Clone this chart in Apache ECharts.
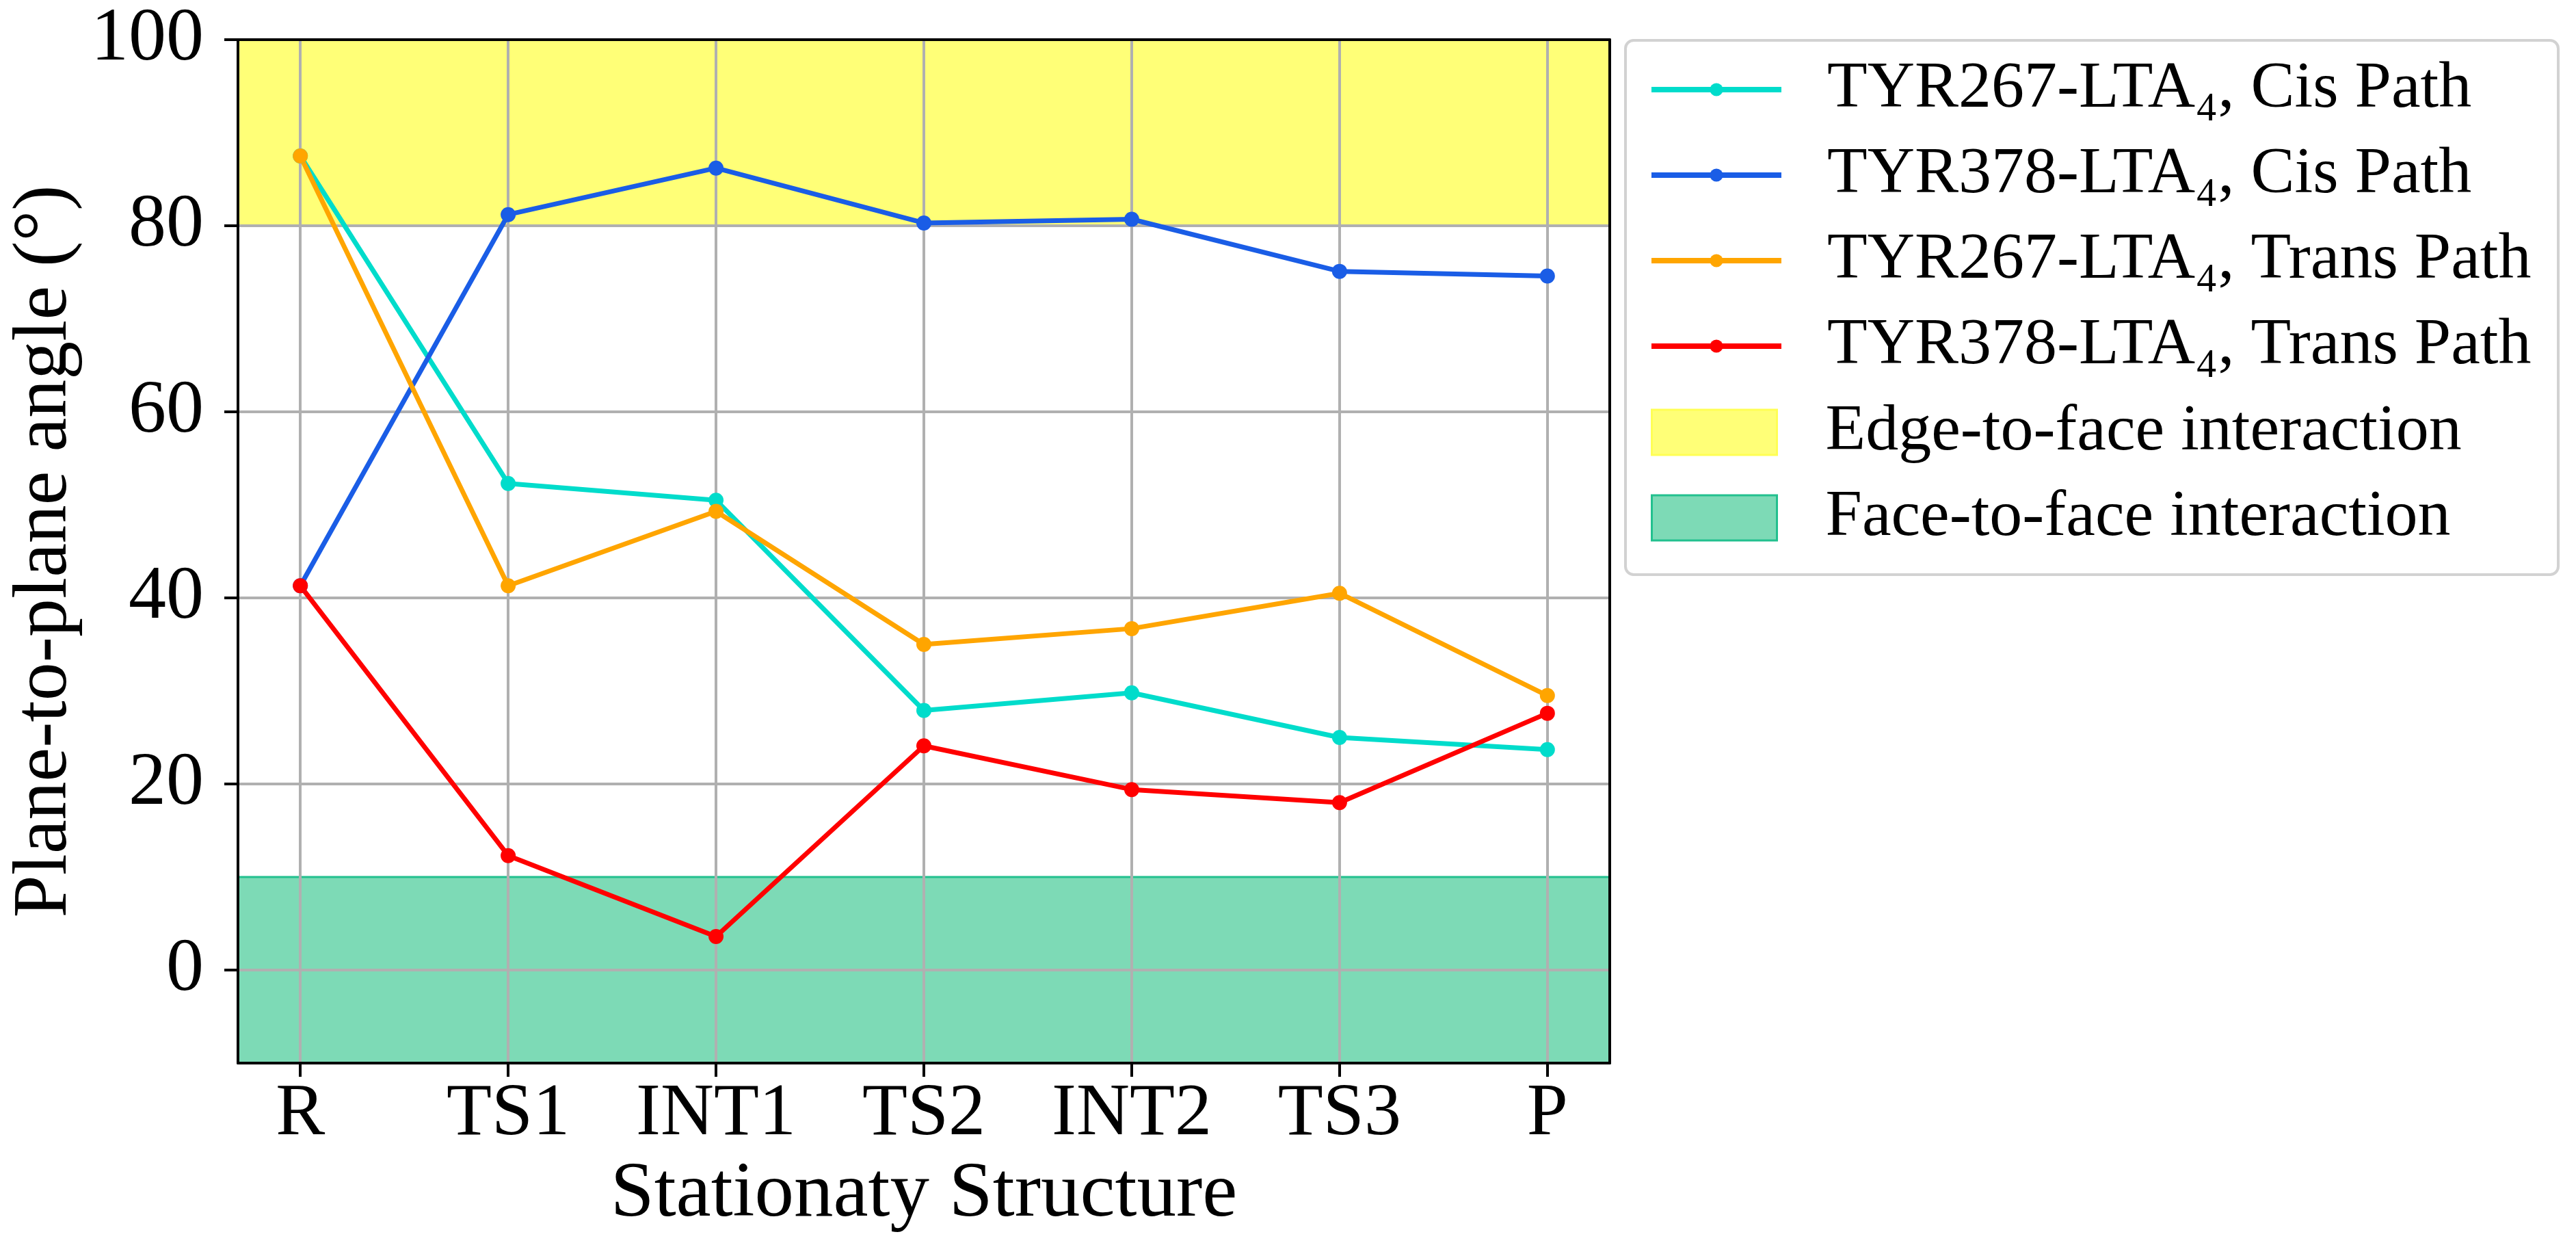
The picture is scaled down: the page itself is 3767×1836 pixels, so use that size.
<!DOCTYPE html>
<html>
<head>
<meta charset="utf-8">
<title>Plane-to-plane angle</title>
<script src="https://cdn.jsdelivr.net/npm/echarts@6/dist/echarts.min.js"></script>
<style>
  html, body { margin: 0; padding: 0; background: #fff; }
  #main { width: 3767px; height: 1836px; }
</style>
</head>
<body>
<div id="main"></div>
<script>
// categories on the x axis
var structures = ['R', 'TS1', 'INT1', 'TS2', 'INT2', 'TS3', 'P'];
var xTicks = [0, 1, 2, 3, 4, 5, 6];
var yTicks = [0, 20, 40, 60, 80, 100];

// angles (degrees)
var tyr267Cis   = [87.5, 52.3, 50.5, 27.9, 29.8, 25.0, 23.7];
var tyr378Cis   = [41.3, 81.2, 86.2, 80.3, 80.7, 75.1, 74.6];
var tyr267Trans = [87.5, 41.3, 49.3, 35.0, 36.7, 40.5, 29.5];
var tyr378Trans = [41.3, 12.3, 3.6, 24.1, 19.4, 18.0, 27.6];

// interaction bands
var edgeToFace = [80, 100];
var faceToFace = [-10, 10];

var font = 'Liberation Serif';

function pts(arr) {
	var out = [];
	for (var i = 0; i < arr.length; i++) {
		out.push([i, arr[i]]);
	}
	return out;
}

function lineSeries(name, color, arr) {
	return {
		name : name,
		type : 'line',
		data : pts(arr),
		symbol : 'circle',
		symbolSize : 22,
		color : color,
		lineStyle : { color : color, width : 7 },
		itemStyle : { color : color },
		z : 3
	};
}

var myChart = echarts.init(document.getElementById('main'));

var frameLine = { show : true, onZero : false, lineStyle : { color : '#000', width : 4 } };
var gridLine = { show : true, lineStyle : { color : '#b0b0b0', width : 4 } };

var option = {
	backgroundColor : '#fff',
	animation : false,
	grid : { left : 348, top : 58, width : 2006, height : 1496 },
	graphic : [ {
		type : 'rect',
		left : 2375, top : 57,
		shape : { width : 1364, height : 781, r : 12 },
		style : { fill : '#fff', stroke : '#d2d2d2', lineWidth : 4 },
		z : -10
	} ],
	legend : [ {
		left : 2406, top : 76,
		orient : 'vertical',
		itemWidth : 190, itemHeight : 24,
		itemGap : 25,
		lineStyle : { width : 8 },
		textStyle : { fontFamily : font, fontSize : 96, lineHeight : 100, color : '#000', padding : [0, 0, 0, 62] },
		data : [ 'TYR267-LTA₄, Cis Path', 'TYR378-LTA₄, Cis Path', 'TYR267-LTA₄, Trans Path', 'TYR378-LTA₄, Trans Path' ]
	}, {
		left : 2409, top : 577,
		orient : 'vertical',
		itemWidth : 183, itemHeight : 66,
		itemGap : 25,
		textStyle : { fontFamily : font, fontSize : 96, lineHeight : 100, color : '#000', padding : [0, 0, 0, 66] },
		data : [
			{ name : 'Edge-to-face interaction', icon : 'rect', itemStyle : { color : '#ffff77', borderColor : '#ffff55', borderWidth : 3 } },
			{ name : 'Face-to-face interaction', icon : 'rect', itemStyle : { color : '#7ddab6', borderColor : '#22c08e', borderWidth : 3 } }
		]
	} ],
	xAxis : [ {
		type : 'value',
		min : -0.3, max : 6.3,
		z : 2,
		name : 'Stationaty Structure',
		nameLocation : 'middle',
		nameGap : 128,
		nameTextStyle : { fontFamily : font, fontSize : 115, color : '#000' },
		axisLine : frameLine,
		axisTick : {
			show : true, length : 20,
			customValues : xTicks,
			lineStyle : { color : '#000', width : 4 }
		},
		axisLabel : {
			customValues : xTicks,
			margin : 22,
			fontFamily : font, fontSize : 108, color : '#000',
			formatter : function (v) { return structures[Math.round(v)]; }
		},
		splitLine : gridLine
	}, {
		type : 'value',
		position : 'top',
		min : -0.3, max : 6.3,
		z : 2,
		axisLine : frameLine,
		axisTick : { show : false },
		axisLabel : { show : false },
		splitLine : { show : false }
	} ],
	yAxis : [ {
		type : 'value',
		min : -10, max : 100,
		z : 2,
		name : 'Plane-to-plane angle (°)',
		nameLocation : 'middle',
		nameRotate : 90,
		nameGap : 205,
		nameTextStyle : { fontFamily : font, fontSize : 112, color : '#000' },
		axisLine : frameLine,
		axisTick : {
			show : true, length : 20,
			customValues : yTicks,
			lineStyle : { color : '#000', width : 4 }
		},
		axisLabel : {
			customValues : yTicks,
			margin : 50,
			fontFamily : font, fontSize : 110, color : '#000'
		},
		splitLine : gridLine
	}, {
		type : 'value',
		position : 'right',
		min : -10, max : 100,
		z : 2,
		axisLine : frameLine,
		axisTick : { show : false },
		axisLabel : { show : false },
		splitLine : { show : false }
	} ],
	series : [
		lineSeries('TYR267-LTA₄, Cis Path', '#00dccb', tyr267Cis),
		lineSeries('TYR378-LTA₄, Cis Path', '#1a5de6', tyr378Cis),
		lineSeries('TYR267-LTA₄, Trans Path', '#ffa500', tyr267Trans),
		lineSeries('TYR378-LTA₄, Trans Path', '#ff0000', tyr378Trans),
		{
			name : 'Edge-to-face interaction',
			type : 'line',
			data : [],
			color : '#ffff77',
			z : 1,
			markArea : {
				silent : true,
				itemStyle : { color : '#ffff77' },
				data : [ [ { yAxis : edgeToFace[0] }, { yAxis : edgeToFace[1] } ] ]
			}
		},
		{
			name : 'Face-to-face interaction',
			type : 'line',
			data : [],
			color : '#7ddab6',
			z : 1,
			markArea : {
				silent : true,
				itemStyle : { color : '#7ddab6', borderColor : '#22c08e', borderWidth : 3 },
				data : [ [ { yAxis : faceToFace[0] }, { yAxis : faceToFace[1] } ] ]
			}
		}
	]
};
myChart.setOption(option);
</script>
</body>
</html>
